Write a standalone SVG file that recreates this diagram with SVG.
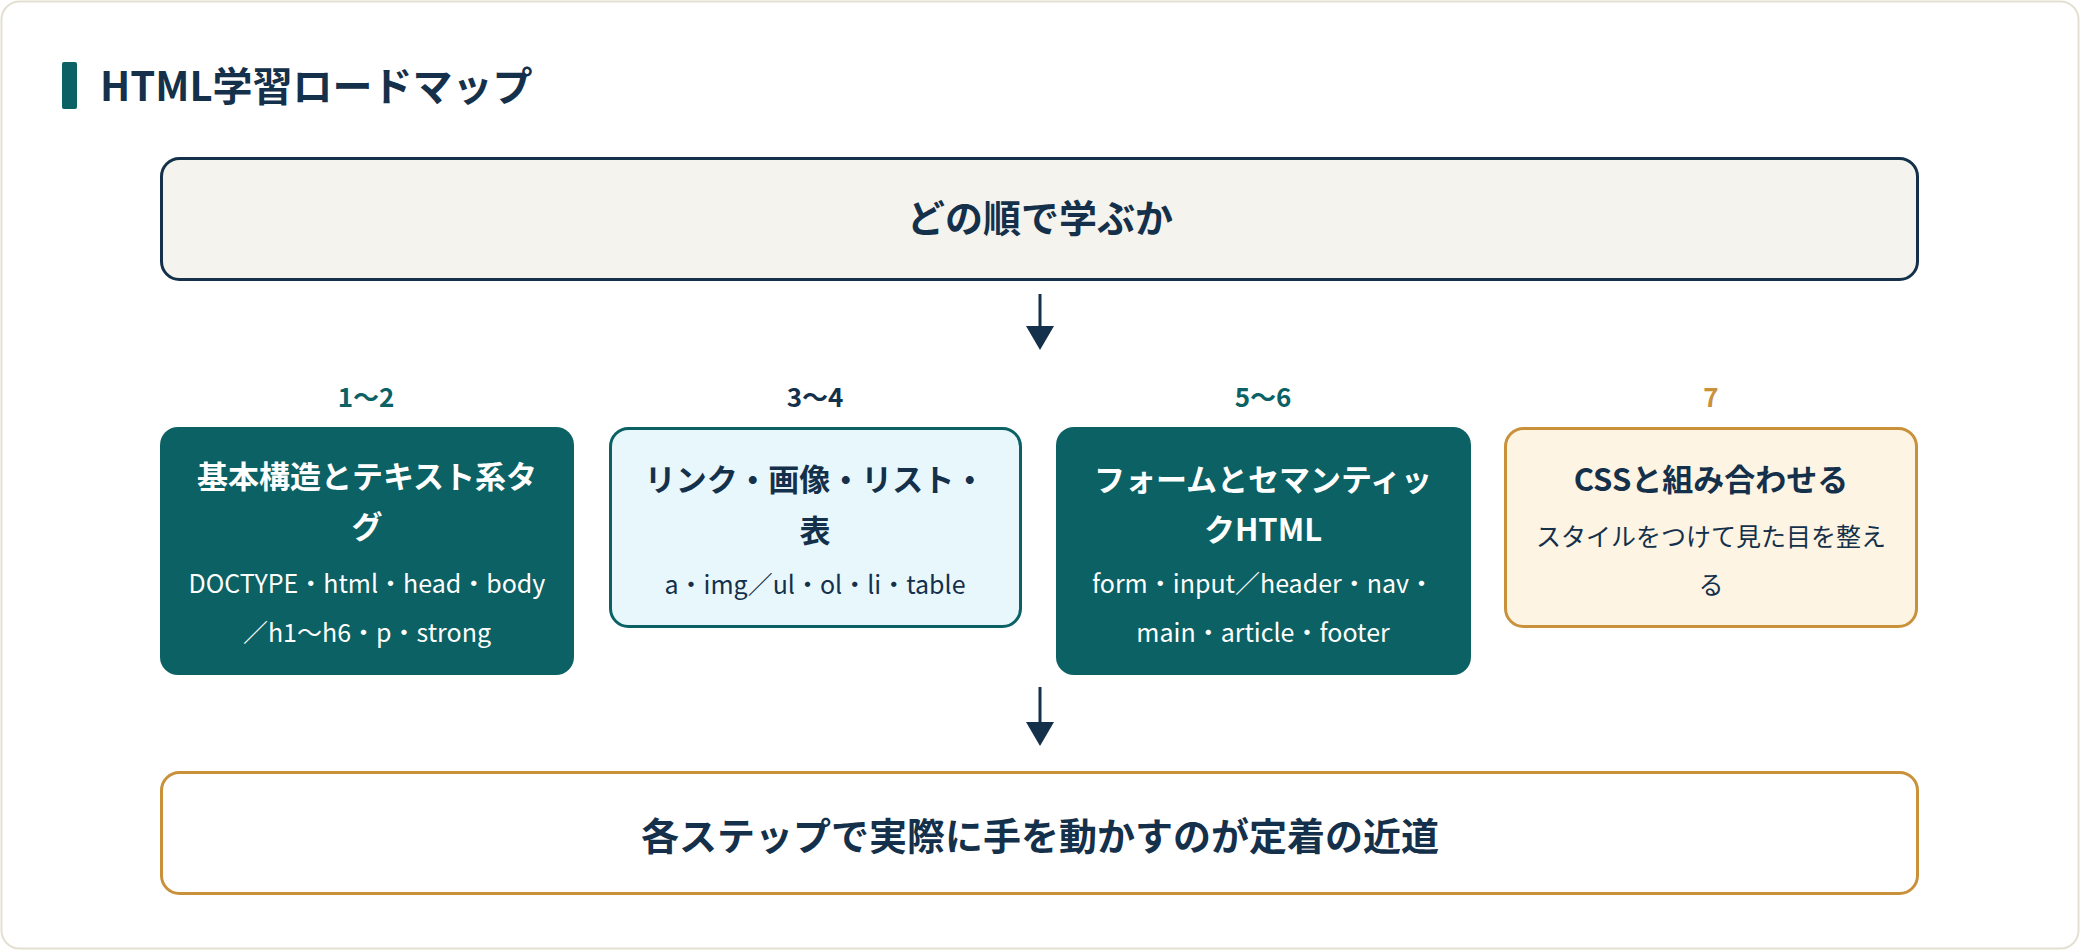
<svg xmlns="http://www.w3.org/2000/svg" width="2080" height="950" viewBox="0 0 2080 950">
<defs>
<style>
text{font-family:"Noto Sans CJK JP","Noto Sans",sans-serif;text-anchor:middle}
.t{font-weight:700;fill:#14304a}
.w{fill:#ffffff}
.teal{fill:#0b6163}
.lbl{font-size:26px;font-weight:700}
.h{font-size:31px;font-weight:700}
.s{font-size:25px}
</style>
<marker id="ah" markerWidth="10" markerHeight="10" refX="5" refY="9" orient="auto" markerUnits="userSpaceOnUse" viewBox="0 0 10 10"><path d="M0,0 L10,0 L5,10 z" fill="#14304a"/></marker>
</defs>
<rect x="1.5" y="1.5" width="2077" height="947" rx="18" fill="#ffffff" stroke="#e3e0d2" stroke-width="2"/>
<g id="title">
<rect x="62" y="62" width="15" height="47" rx="2" fill="#0b6163"/>
<text x="100" y="101" class="t" style="text-anchor:start;font-size:40px">HTML学習ロードマップ</text>
</g>
<g id="connectors" stroke="#14304a" stroke-width="3" fill="#14304a">
<line x1="1040" y1="294" x2="1040" y2="328"/>
<path d="M1026,326 L1054,326 L1040,350 z" stroke="none"/>
<line x1="1040" y1="687" x2="1040" y2="724"/>
<path d="M1026,722 L1054,722 L1040,746 z" stroke="none"/>
</g>
<g id="top">
<rect x="161.5" y="158.5" width="1756" height="121" rx="18" fill="#f5f3ee" stroke="#14304a" stroke-width="3"/>
<text x="1040" y="232" class="t" style="font-size:38px">どの順で学ぶか</text>
</g>
<g id="step1">
<text x="366" y="407" class="lbl teal">1〜2</text>
<rect x="160" y="427" width="414" height="248" rx="18" fill="#0b6163"/>
<text x="367" y="488" class="h w">基本構造とテキスト系タ</text>
<text x="367" y="538" class="h w">グ</text>
<text x="367" y="593" class="s w">DOCTYPE・html・head・body</text>
<text x="367" y="642" class="s w">／h1〜h6・p・strong</text>
</g>
<g id="step2">
<text x="815" y="407" class="lbl" fill="#14304a">3〜4</text>
<rect x="610.5" y="428.5" width="410" height="198" rx="18" fill="#e8f7fc" stroke="#0b6163" stroke-width="3"/>
<text x="815" y="491" class="h" fill="#14304a">リンク・画像・リスト・</text>
<text x="815" y="542" class="h" fill="#14304a">表</text>
<text x="815" y="594" class="s" fill="#14304a">a・img／ul・ol・li・table</text>
</g>
<g id="step3">
<text x="1263" y="407" class="lbl teal">5〜6</text>
<rect x="1056" y="427" width="415" height="248" rx="18" fill="#0b6163"/>
<text x="1263" y="491" class="h w">フォームとセマンティッ</text>
<text x="1263" y="541" class="h w">クHTML</text>
<text x="1263" y="593" class="s w">form・input／header・nav・</text>
<text x="1263" y="642" class="s w">main・article・footer</text>
</g>
<g id="step4">
<text x="1711" y="407" class="lbl" fill="#c8913a">7</text>
<rect x="1505.5" y="428.5" width="411" height="198" rx="18" fill="#fdf4e3" stroke="#c8913a" stroke-width="3"/>
<text x="1711" y="491" class="h" fill="#14304a">CSSと組み合わせる</text>
<text x="1711" y="546" class="s" fill="#14304a">スタイルをつけて見た目を整え</text>
<text x="1711" y="594" class="s" fill="#14304a">る</text>
</g>
<g id="bottom">
<rect x="161.5" y="772.5" width="1756" height="121" rx="18" fill="#ffffff" stroke="#c8913a" stroke-width="3"/>
<text x="1040" y="850" class="t" style="font-size:38px">各ステップで実際に手を動かすのが定着の近道</text>
</g>
</svg>
